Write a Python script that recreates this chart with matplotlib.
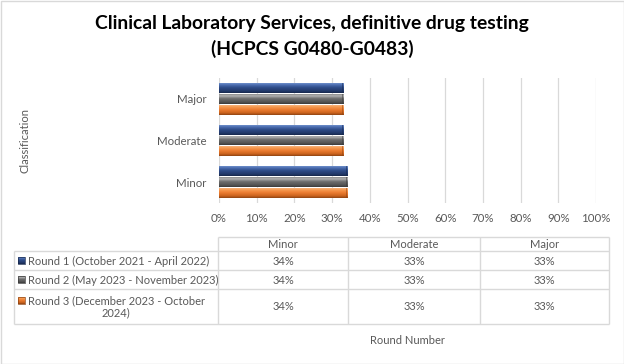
import textwrap
import numpy as np
import matplotlib
matplotlib.use("Agg")
import matplotlib.pyplot as plt
from matplotlib.colors import LinearSegmentedColormap
from matplotlib.patches import Rectangle

# ---------------- data ----------------
categories = ["Minor", "Moderate", "Major"]
series_names = [
    "Round 1 (October 2021 - April 2022)",
    "Round 2 (May 2023 - November 2023)",
    "Round 3 (December 2023 - October 2024)",
]
round1 = [0.34, 0.33, 0.33]
round2 = [0.34, 0.33, 0.33]
round3 = [0.34, 0.33, 0.33]
x_ticks = [0.0, 0.1, 0.2, 0.3, 0.4, 0.5, 0.6, 0.7, 0.8, 0.9, 1.0]
x_ticklabels = ["0%", "10%", "20%", "30%", "40%", "50%", "60%", "70%", "80%", "90%", "100%"]
title_lines = ["Clinical Laboratory Services, definitive drug testing", "(HCPCS G0480-G0483)"]
y_label = "Classification"
x_label = "Round Number"

series_values = [round1, round2, round3]

# ---------------- style ----------------
plt.rcParams['font.family'] = ['Lato', 'DejaVu Sans']
TXT = '#595959'
GRID = '#D9D9D9'
FS = 8.0

# gradient stops (top -> bottom) for bevel look
grads = [
    ['#6F8FCB', '#4C6DB0', '#2E4C88', '#22396A', '#17284C'],
    ['#8C8C8C', '#B2B2B2', '#6E6E6E', '#555555', '#3A3A3A'],
    ['#F8B27A', '#F59A50', '#ED7D31', '#C9621D', '#8E4312'],
]
cmaps = [LinearSegmentedColormap.from_list(f"g{i}", list(zip([0, 0.18, 0.45, 0.8, 1.0], g)))
         for i, g in enumerate(grads)]

W, H = 624, 364
fig = plt.figure(figsize=(W / 100, H / 100), dpi=100)

# overlay (pixel coordinates) for title, table, labels
ov = fig.add_axes([0, 0, 1, 1])
ov.set_xlim(0, W)
ov.set_ylim(H, 0)
ov.axis('off')
ov.add_patch(Rectangle((0.5, 0.5), W - 1, H - 1, fill=False, edgecolor='#D9D9D9', lw=1))

# ---------------- bar chart ----------------
ax_l, ax_r, ax_t, ax_b = 219, 596, 78, 203
ax = fig.add_axes([ax_l / W, 1 - ax_b / H, (ax_r - ax_l) / W, (ax_b - ax_t) / H])
ax.set_facecolor('none')
ypos = np.arange(len(categories))
pitch = 0.258
bh = 0.238
offsets = [pitch, 0.0, -pitch]
grad_img = np.linspace(0, 1, 64).reshape(-1, 1)
for s, vals in enumerate(series_values):
    bars = ax.barh(ypos + offsets[s], vals, height=bh, color=grads[s][2], linewidth=0, zorder=2)
    for b in bars:
        x0, y0 = b.get_x(), b.get_y()
        w, h = b.get_width(), b.get_height()
        im = ax.imshow(grad_img, cmap=cmaps[s], extent=[x0, x0 + w, y0, y0 + h],
                       origin='upper', aspect='auto', zorder=3, interpolation='bilinear')
        im.set_clip_path(b)
        # darker right bevel
        ax.add_patch(Rectangle((x0 + w - 0.004, y0), 0.004, h, color=grads[s][4], alpha=0.5, lw=0, zorder=4))

ax.set_xlim(0, 1)
ax.set_ylim(-0.5, len(categories) - 0.5)
ax.set_xticks(x_ticks)
ax.set_xticklabels(x_ticklabels)
ax.set_yticks(ypos)
ax.set_yticklabels(categories)
ax.tick_params(axis='x', length=0, pad=7, labelsize=FS + 0.3, labelcolor=TXT)
ax.tick_params(axis='y', length=0, pad=9, labelsize=FS + 0.3, labelcolor=TXT)
ax.xaxis.grid(True, color=GRID, lw=0.9, zorder=0)
ax.set_axisbelow(True)
for sp in ax.spines.values():
    sp.set_visible(False)

# ---------------- title & axis labels ----------------
ov.text(W / 2, 24, title_lines[0], ha='center', va='center', fontsize=13.9, fontweight='bold', color='black')
ov.text(W / 2, 49, title_lines[1], ha='center', va='center', fontsize=13.9, fontweight='bold', color='black')
ov.text(25, (ax_t + ax_b) / 2, y_label, rotation=90, ha='center', va='center', fontsize=FS, color=TXT)
ov.text((ax_l + ax_r) / 2, 341, x_label, ha='center', va='center', fontsize=FS, color=TXT)

# ---------------- data table ----------------
col_edges = [14.3, 218.3, 348.3, 480.0, 608.7]
row_edges = [237.0, 251.3, 270.0, 289.0, 324.0]
lc = dict(color=GRID, lw=1.0, solid_capstyle='butt')
ov.plot([col_edges[1], col_edges[-1]], [row_edges[0]] * 2, **lc)
for y in row_edges[1:]:
    ov.plot([col_edges[0], col_edges[-1]], [y, y], **lc)
ov.plot([col_edges[0]] * 2, [row_edges[1], row_edges[-1]], **lc)
for x in col_edges[1:]:
    ov.plot([x, x], [row_edges[0], row_edges[-1]], **lc)

# header
for j, cat in enumerate(categories):
    cx = (col_edges[j + 1] + col_edges[j + 2]) / 2
    ov.text(cx, (row_edges[0] + row_edges[1]) / 2 + 0.5, cat, ha='center', va='center', fontsize=FS, color=TXT)

line_h = 12.0
for i, (name, vals) in enumerate(zip(series_names, series_values)):
    r0, r1 = row_edges[i + 1], row_edges[i + 2]
    rc = (r0 + r1) / 2
    lines = textwrap.wrap(name, 35)
    n = len(lines)
    first_y = rc - (n - 1) * line_h / 2
    # legend key
    ky = first_y
    ov.imshow(grad_img, cmap=cmaps[i], extent=[18.3, 25.0, ky + 3.4, ky - 3.4], aspect='auto', zorder=3)
    ov.add_patch(Rectangle((18.3, ky - 3.4), 6.7, 6.8, fill=False, edgecolor=grads[i][4], lw=0.5, zorder=4))
    ov.text(28.3, first_y + 0.5, lines[0], ha='left', va='center', fontsize=FS, color=TXT)
    for k, ln in enumerate(lines[1:], start=1):
        ov.text((col_edges[0] + col_edges[1]) / 2, first_y + k * line_h + 0.5, ln,
                ha='center', va='center', fontsize=FS, color=TXT)
    for j, v in enumerate(vals):
        cx = (col_edges[j + 1] + col_edges[j + 2]) / 2
        ov.text(cx, rc + 0.5, f"{v * 100:.0f}%", ha='center', va='center', fontsize=FS, color=TXT)

ov.set_xlim(0, W)
ov.set_ylim(H, 0)

fig.savefig("out.png", dpi=100)
